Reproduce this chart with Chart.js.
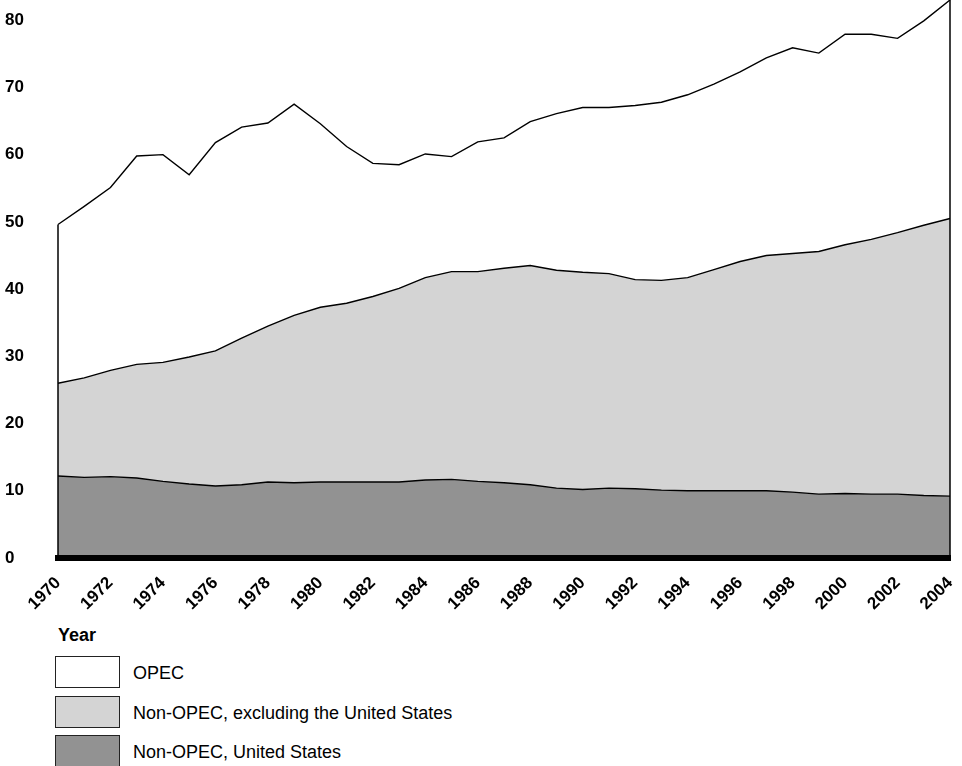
<!DOCTYPE html>
<html><head><meta charset="utf-8">
<script src="https://cdn.jsdelivr.net/npm/chart.js@4.4.1/dist/chart.umd.min.js"></script>
<style>
html,body{margin:0;padding:0;background:#fff;width:962px;height:766px;overflow:hidden;font-family:"Liberation Sans",Arial,sans-serif;}
#wrap{position:absolute;left:0;top:0;width:962px;height:620px;}
.lg-title{position:absolute;left:58px;top:625px;font-weight:bold;font-size:18px;line-height:21px;color:#000;}
.lg-row{position:absolute;left:55px;height:32px;display:flex;align-items:center;}
.lg-box{width:63px;height:30px;border:1px solid #222;box-sizing:content-box;}
.lg-text{margin-left:13px;font-size:18px;color:#000;padding-top:3px;}
</style></head>
<body>
<div id="wrap"><canvas id="c" width="962" height="620"></canvas></div>
<div id="legend"></div>
<script>
const years = ["1970","1971","1972","1973","1974","1975","1976","1977","1978","1979","1980","1981","1982","1983","1984","1985","1986","1987","1988","1989","1990","1991","1992","1993","1994","1995","1996","1997","1998","1999","2000","2001","2002","2003","2004"];
const tickYears = ["1970","1972","1974","1976","1978","1980","1982","1984","1986","1988","1990","1992","1994","1996","1998","2000","2002","2004"];
const usValues = [12.2,12.0,12.1,11.9,11.4,11.0,10.7,10.9,11.3,11.2,11.3,11.3,11.3,11.3,11.6,11.7,11.4,11.2,10.9,10.4,10.2,10.4,10.3,10.1,10.0,10.0,10.0,10.0,9.8,9.5,9.6,9.5,9.5,9.3,9.2];
const nonUSValues = [13.8,14.8,15.8,16.9,17.7,18.9,20.1,21.8,23.2,24.9,26.0,26.6,27.6,28.8,30.1,30.9,31.2,31.9,32.6,32.4,32.3,31.9,31.1,31.2,31.7,32.9,34.1,35.0,35.5,36.1,37.0,37.9,38.9,40.2,41.3];
const opecValues = [23.6,25.5,27.2,31.0,30.9,27.1,31.0,31.4,30.2,31.4,27.3,23.3,19.8,18.4,18.4,17.1,19.3,19.4,21.4,23.3,24.5,24.7,25.9,26.5,27.2,27.6,28.2,29.4,30.6,29.5,31.3,30.5,28.9,30.4,32.5];
const seriesNames = ["Non-OPEC, United States","Non-OPEC, excluding the United States","OPEC"];
const seriesColors = ["#929292","#d4d4d4","#ffffff"];
const legendTitle = "Year";

const FONT = '"Liberation Sans", Arial, sans-serif';

const edgeLines = {
  id: 'edgeLines',
  afterDatasetsDraw(chart) {
    const meta = chart.getDatasetMeta(chart.data.datasets.length - 1);
    const y0 = chart.scales.y.getPixelForValue(0);
    const ctx = chart.ctx;
    const pts = [meta.data[0], meta.data[meta.data.length - 1]];
    ctx.save();
    ctx.strokeStyle = '#000';
    ctx.lineWidth = 1.5;
    pts.forEach(p => { ctx.beginPath(); ctx.moveTo(p.x, p.y); ctx.lineTo(p.x, y0); ctx.stroke(); });
    ctx.restore();
  }
};

function noPad(scale) {
  scale.paddingLeft = 0; scale.paddingRight = 0; scale.paddingTop = 0; scale.paddingBottom = 0;
}

const valueSets = [usValues, nonUSValues, opecValues];
const datasets = valueSets.map((vals, i) => ({
  label: seriesNames[i],
  data: vals,
  backgroundColor: seriesColors[i],
  borderColor: '#000',
  borderWidth: 1.4,
  pointRadius: 0,
  tension: 0,
  fill: i === 0 ? 'origin' : '-1'
}));

const chart = new Chart(document.getElementById('c'), {
  type: 'line',
  data: { labels: years, datasets },
  plugins: [edgeLines],
  options: {
    responsive: false,
    animation: false,
    layout: { padding: { left: 5, right: 12, top: 0, bottom: 0 } },
    plugins: { legend: { display: false }, tooltip: { enabled: false } },
    scales: {
      x: {
        type: 'category',
        offset: false,
        grid: { display: false, drawTicks: false },
        border: { display: true, width: 6, color: '#000', z: 1 },
        afterFit(scale) { scale.height = 62; noPad(scale); },
        ticks: {
          autoSkip: false, maxRotation: 45, minRotation: 45, padding: 15,
          color: '#000', font: { family: FONT, size: 17, weight: 'bold' },
          callback(value) { const lab = this.getLabelForValue(value); return tickYears.includes(lab) ? lab : ''; }
        }
      },
      y: {
        stacked: true,
        min: 0, max: 83,
        grid: { display: false, drawTicks: false },
        border: { display: false },
        afterFit(scale) { scale.width = 53; noPad(scale); },
        ticks: {
          stepSize: 10, includeBounds: false, crossAlign: 'far', padding: 0,
          color: '#000', font: { family: FONT, size: 17, weight: 'bold' },
          callback(v) { return v % 10 === 0 ? String(v) : ''; }
        }
      }
    }
  }
});

// HTML legend built from the chart's datasets (top series first)
const lg = document.getElementById('legend');
const t = document.createElement('div'); t.className = 'lg-title'; t.textContent = legendTitle; lg.appendChild(t);
const rowTops = [656, 696, 735];
chart.data.datasets.slice().reverse().forEach((ds, i) => {
  const row = document.createElement('div'); row.className = 'lg-row'; row.style.top = rowTops[i] + 'px';
  const b = document.createElement('div'); b.className = 'lg-box'; b.style.background = ds.backgroundColor;
  const tx = document.createElement('div'); tx.className = 'lg-text'; tx.textContent = ds.label;
  row.appendChild(b); row.appendChild(tx); lg.appendChild(row);
});
</script>
</body></html>
